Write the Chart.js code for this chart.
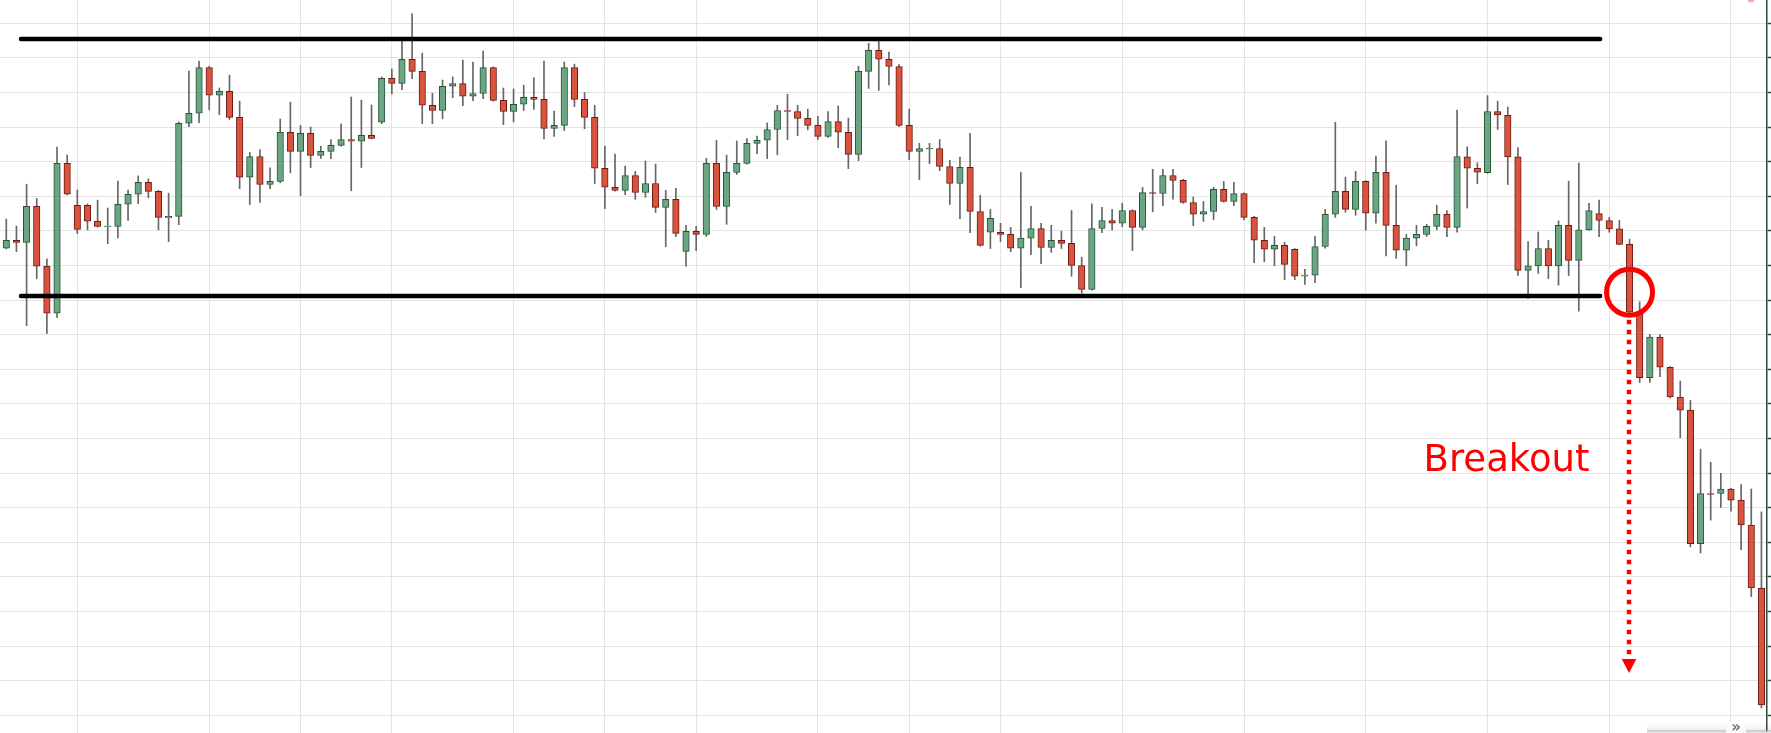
<!DOCTYPE html>
<html>
<head>
<meta charset="utf-8">
<title>Breakout</title>
<script src="https://cdn.jsdelivr.net/npm/chart.js@4.4.1/dist/chart.umd.min.js"></script>
<style>
  html, body { margin: 0; padding: 0; background: #fff; overflow: hidden; }
  #wrap { position: relative; width: 1771px; height: 733px; }
</style>
</head>
<body>
<div id="wrap"><canvas id="chart"></canvas></div>
<script>
// candle data, one entry per session (index = session number)
const opens = [
  135.0,137.3,136.7,147.1,129.8,116.2,159.5,147.4,147.4,142.8,
  141.2,141.3,147.7,150.6,154.0,151.4,143.8,144.2,171.1,174.0,
  187.2,179.2,180.3,172.8,155.5,161.5,153.4,154.3,168.5,163.0,
  168.2,161.8,163.0,164.7,166.4,165.9,167.6,171.4,184.1,182.6,
  189.6,186.1,176.3,174.8,181.8,182.6,178.9,179.7,187.2,177.7,
  174.5,176.6,178.6,178.0,169.6,170.5,187.2,178.0,172.8,158.1,
  152.6,151.7,156.0,151.1,153.7,146.8,149.1,134.1,139.9,139.0,
  159.5,147.1,156.9,159.5,165.3,166.2,169.3,174.8,174.5,172.5,
  170.5,167.3,171.6,168.5,162.1,186.1,192.2,189.6,187.5,170.5,
  163.0,163.7,163.8,158.6,153.7,158.4,145.6,139.6,139.6,139.0,
  135.0,137.9,140.7,135.2,137.3,136.4,130.0,123.1,140.7,143.0,
  142.2,145.9,141.0,151.1,150.8,156.0,154.6,148.2,144.8,145.6,
  152.0,148.5,150.8,143.9,137.3,134.7,135.8,134.7,126.9,127.2,
  135.5,144.8,151.4,146.2,154.3,145.1,156.9,141.6,134.4,137.9,
  139.0,141.3,144.8,141.0,161.4,158.1,156.8,174.5,173.4,161.4,
  128.6,129.9,134.9,129.9,141.6,131.5,140.3,145.0,143.0,140.6,
  136.1,116.5,97.6,109.3,100.6,92.0,88.2,49.6,64.1,64.1,
  65.4,62.2,55.0,36.8
];
const highs = [
  143.4,141.4,153.5,149.4,131.9,164.2,161.9,151.8,147.8,148.9,
  146.6,154.4,151.8,155.9,155.0,151.7,150.9,171.5,186.2,189.1,
  187.6,181.3,185.0,177.5,162.7,163.4,158.2,172.3,177.2,170.5,
  170.0,164.5,166.4,170.9,178.7,177.8,176.4,184.5,186.8,195.0,
  202.7,191.4,179.8,183.6,184.5,189.4,188.8,192.0,187.4,181.3,
  181.0,182.1,184.2,189.1,174.6,188.8,188.2,180.0,176.3,164.5,
  162.2,158.7,157.2,160.2,159.3,151.7,152.3,141.6,141.3,161.0,
  166.2,161.9,166.0,166.7,167.4,171.2,176.3,179.5,176.3,175.2,
  173.1,174.5,176.1,172.6,187.6,194.2,194.9,191.7,188.1,175.2,
  165.3,165.3,166.4,160.4,161.3,168.2,150.3,146.2,142.2,141.0,
  156.9,147.1,142.2,141.6,139.9,145.9,132.4,147.8,146.8,146.2,
  148.0,146.1,152.6,157.8,157.8,157.8,154.9,149.8,148.5,152.6,
  154.3,154.0,151.0,144.2,141.0,138.4,136.7,134.9,128.9,138.4,
  146.2,171.4,155.5,157.2,154.5,161.6,166.0,153.2,139.0,141.6,
  141.9,147.4,145.9,174.9,164.3,159.7,179.1,177.5,175.8,164.1,
  136.9,139.7,137.3,142.9,154.4,159.6,148.0,148.9,143.9,143.0,
  137.6,119.5,110.1,110.0,100.8,96.6,91.0,76.9,73.1,69.9,
  65.6,66.7,65.4,58.8
];
const lows = [
  134.8,134.0,112.6,126.2,110.4,114.9,150.4,139.2,140.3,141.1,
  136.3,138.0,143.0,147.9,149.6,140.3,136.9,141.8,170.1,171.3,
  175.0,173.6,172.2,152.2,147.6,148.2,152.2,153.9,156.8,150.2,
  158.3,160.9,160.9,164.5,151.6,158.3,166.6,171.0,179.6,180.8,
  184.0,171.0,171.0,172.4,178.5,176.2,177.6,178.2,177.5,170.7,
  171.5,174.8,175.1,166.6,167.3,169.0,175.9,169.5,153.7,146.4,
  151.5,150.5,149.1,149.7,145.3,135.4,138.3,129.8,134.3,138.4,
  146.2,141.9,156.3,159.3,162.3,160.9,162.0,166.4,167.5,169.2,
  166.4,167.0,164.0,158.0,160.3,181.2,180.6,182.2,170.1,160.6,
  154.8,159.4,157.4,147.6,143.5,139.5,135.6,134.9,136.9,134.0,
  123.6,133.1,130.5,133.8,134.9,126.9,122.0,122.9,139.5,140.3,
  141.2,134.3,140.3,145.5,147.3,149.2,148.0,141.5,142.7,143.2,
  148.3,147.3,143.2,130.8,131.1,129.9,125.9,125.9,124.5,125.0,
  135.0,143.9,145.4,144.5,140.2,142.2,132.8,132.1,129.9,135.7,
  138.4,140.3,138.3,139.6,146.6,153.6,156.6,169.3,153.4,127.1,
  120.5,127.7,126.2,124.3,127.1,116.8,140.2,138.3,139.6,136.0,
  115.5,96.2,96.2,97.9,91.7,80.2,48.7,46.9,56.4,60.1,
  59.0,47.9,34.3,2.1
];
const closes = [
  137.3,136.7,147.1,129.8,116.2,159.5,150.6,140.4,142.8,141.3,
  141.4,147.7,150.6,154.0,151.4,143.9,144.2,171.1,174.0,187.2,
  179.2,180.3,172.8,155.5,161.5,153.4,154.3,168.5,163.0,168.2,
  161.8,163.0,164.7,166.4,165.9,167.6,166.7,184.1,182.6,189.6,
  186.1,176.3,174.8,181.8,182.6,178.9,179.7,187.2,177.7,174.5,
  176.6,178.6,178.0,169.6,170.5,187.2,178.0,172.8,158.1,152.6,
  151.7,156.0,151.1,153.7,146.8,149.1,139.3,139.9,139.0,159.5,
  147.1,156.9,159.5,165.3,166.2,169.3,174.8,174.5,172.5,170.5,
  167.3,171.6,168.5,162.1,186.1,192.2,189.6,187.5,170.5,163.0,
  163.8,163.9,158.6,153.7,158.4,145.6,135.8,143.6,139.0,135.0,
  137.9,140.7,135.2,137.3,136.4,130.0,123.1,140.7,143.0,142.2,
  145.9,141.0,151.1,150.8,156.0,154.6,148.2,144.8,145.6,152.0,
  148.5,150.8,143.9,137.3,134.7,135.8,130.3,126.9,127.2,135.5,
  144.8,151.4,146.2,154.3,145.1,156.9,141.6,134.4,137.9,139.0,
  141.3,144.8,141.0,161.5,158.1,157.0,174.5,173.5,161.4,128.6,
  129.9,134.9,129.9,141.6,131.5,140.3,145.9,143.0,140.6,136.1,
  116.5,97.6,109.3,100.6,92.0,88.2,49.6,64.1,63.8,65.4,
  62.2,55.0,36.8,3.0
];

// sessions that carry a vertical grid line
const gridSessions = [7, 20, 29, 38, 50, 59, 68, 80, 89, 98, 110, 122, 134, 146, 158, 170];

// drawn range lines (price, from session, to session)
const resistance = 195.46;
const support = 121.2;
const rangeFrom = 1.45;
const rangeTo = 157.1;

// breakout markup
const breakoutSession = 160;
const circlePrice = 122.3;
const arrowFrom = 114.3;
const arrowTo = 12.2;
const labelText = 'Breakout';
const labelSession = 139.7;
const labelPrice = 70.6;

const GREEN = '#6aa682', GREEN_EDGE = '#28543a';
const RED = '#d9533f', RED_EDGE = '#6e1912';
const GRID = '#e4e4e4';
const AXIS = '#2b4a38';

const up = opens.map((o, i) => closes[i] >= o);
const bodies = opens.map((o, i) => ({ x: i, y: [o, closes[i]] }));
const wicks = lows.map((l, i) => ({ x: i, y: [l, highs[i]] }));

const overlay = {
    id: 'overlay',
    afterDatasetsDraw(chart) {
        const { ctx, scales: { x, y } } = chart;
        const bx = x.getPixelForValue(breakoutSession) - 0.5;
        ctx.save();

        // dotted drop arrow
        const yTop = y.getPixelForValue(arrowFrom);
        const yTip = y.getPixelForValue(arrowTo);
        ctx.strokeStyle = '#ff0000';
        ctx.lineWidth = 4.5;
        ctx.setLineDash([4.5, 5.5]);
        ctx.beginPath();
        ctx.moveTo(bx, yTop);
        ctx.lineTo(bx, yTip - 17);
        ctx.stroke();
        ctx.setLineDash([]);
        ctx.fillStyle = '#ff0000';
        ctx.beginPath();
        ctx.moveTo(bx - 7.3, yTip - 14);
        ctx.lineTo(bx + 7.3, yTip - 14);
        ctx.lineTo(bx, yTip);
        ctx.closePath();
        ctx.fill();

        // circle round the breakout candle
        ctx.lineWidth = 5;
        ctx.beginPath();
        ctx.arc(bx + 0.5, y.getPixelForValue(circlePrice), 23, 0, Math.PI * 2);
        ctx.stroke();

        // label
        ctx.font = '37px "DejaVu Sans"';
        ctx.textBaseline = 'alphabetic';
        ctx.textAlign = 'left';
        ctx.fillText(labelText, x.getPixelForValue(labelSession), y.getPixelForValue(labelPrice));
        ctx.restore();
    },
    afterDraw(chart) {
        // little scroll button in the bottom right corner, and a clipped marker at the top
        const { ctx, width, height } = chart;
        ctx.save();
        const g = ctx.createLinearGradient(0, height - 11, 0, height - 2);
        g.addColorStop(0, 'rgba(0,0,0,0)');
        g.addColorStop(1, 'rgba(0,0,0,0.07)');
        ctx.fillStyle = g;
        ctx.fillRect(width - 124, height - 11, 124, 9);
        ctx.fillStyle = '#a8a8a8';
        ctx.fillRect(width - 124, height - 2.5, 124, 1);
        ctx.fillStyle = '#dcdcdc';
        ctx.fillRect(width - 124, height - 1.5, 124, 1.5);
        ctx.fillStyle = 'rgba(255,255,255,0.85)';
        ctx.beginPath();
        ctx.arc(width - 35, height - 3, 10, 0, Math.PI * 2);
        ctx.fill();
        ctx.fillStyle = '#707070';
        ctx.font = 'bold 15px "DejaVu Sans"';
        ctx.textAlign = 'center';
        ctx.textBaseline = 'middle';
        ctx.fillText('\u00bb', width - 35, height - 5);
        ctx.fillStyle = '#f6a9a9';
        ctx.beginPath();
        ctx.arc(width - 20, -1, 3.5, 0, Math.PI);
        ctx.fill();
        ctx.restore();
    }
};

new Chart(document.getElementById('chart'), {
    type: 'bar',
    data: {
        datasets: [
            {
                type: 'line',
                data: [{ x: rangeFrom, y: resistance }, { x: rangeTo, y: resistance }],
                borderColor: '#000',
                borderWidth: 4.5,
                borderCapStyle: 'round',
                pointRadius: 0,
                order: 0
            },
            {
                type: 'line',
                data: [{ x: rangeFrom, y: support }, { x: rangeTo, y: support }],
                borderColor: '#000',
                borderWidth: 4.5,
                borderCapStyle: 'round',
                pointRadius: 0,
                order: 0
            },
            {
                data: bodies,
                backgroundColor: up.map(u => u ? GREEN : RED),
                borderColor: up.map(u => u ? GREEN_EDGE : RED_EDGE),
                borderWidth: 1,
                borderSkipped: false,
                barThickness: 6.5,
                grouped: false,
                order: 1
            },
            {
                data: wicks,
                backgroundColor: '#666666',
                borderWidth: 0,
                barThickness: 1,
                grouped: false,
                order: 2
            }
        ]
    },
    options: {
        responsive: true,
        maintainAspectRatio: false,
        animation: false,
        events: [],
        layout: { padding: 0 },
        plugins: { legend: { display: false }, tooltip: { enabled: false } },
        scales: {
            x: {
                type: 'linear',
                min: -0.621,
                max: 173.55,
                offset: false,
                afterBuildTicks: s => { s.ticks = gridSessions.map(v => ({ value: v })); },
                ticks: { display: false },
                grid: { color: GRID, offset: false, drawTicks: false },
                border: { display: false }
            },
            y: {
                type: 'linear',
                position: 'right',
                min: -5.12,
                max: 206.73,
                beginAtZero: false,
                ticks: { display: false, stepSize: 10, includeBounds: false },
                grid: { color: GRID, tickLength: 4, tickColor: AXIS, tickWidth: 1.5 },
                border: { color: AXIS, width: 1.5 }
            }
        }
    },
    plugins: [overlay]
});
</script>
</body>
</html>
